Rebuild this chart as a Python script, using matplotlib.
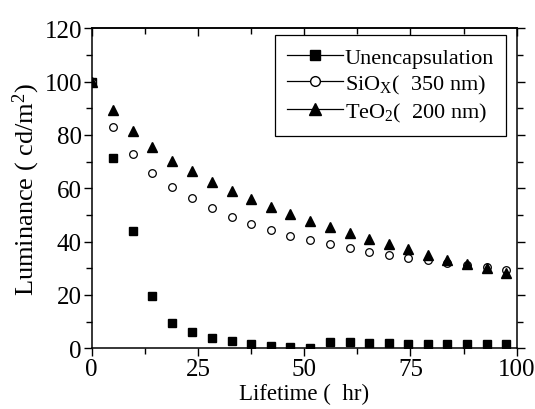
import matplotlib
matplotlib.use("Agg")
import matplotlib.pyplot as plt
from matplotlib.ticker import MultipleLocator, NullFormatter

plt.rcParams['font.family'] = ['Liberation Serif', 'DejaVu Serif']
plt.rcParams['mathtext.fontset'] = 'custom'
plt.rcParams['mathtext.rm'] = 'Liberation Serif'
plt.rcParams['mathtext.it'] = 'Liberation Serif'

# lifetime (hr)
hours = [0, 5.1, 9.8, 14.3, 19.0, 23.6, 28.3, 32.9, 37.5, 42.1, 46.7,
         51.4, 56.1, 60.7, 65.3, 69.9, 74.5, 79.1, 83.7, 88.4, 93.1, 97.6]
# luminance (cd/m2)
unencap = [100, 71.5, 43.9, 19.7, 9.5, 6.0, 4.0, 2.7, 1.6, 1.0, 0.5,
           0.1, 2.2, 2.2, 2.0, 1.9, 1.7, 1.7, 1.6, 1.6, 1.6, 1.6]
siox = [100, 83.1, 73.0, 65.9, 60.5, 56.4, 52.7, 49.2, 46.5, 44.2, 42.1,
        40.6, 39.0, 37.5, 36.1, 35.1, 34.0, 33.0, 32.0, 31.1, 30.4, 29.5]
teo2 = [100, 89.3, 81.6, 75.4, 70.3, 66.4, 62.5, 58.9, 55.9, 52.9, 50.2,
        47.9, 45.4, 43.1, 41.1, 39.2, 37.2, 35.1, 33.2, 31.5, 30.0, 28.2]

fig = plt.figure(figsize=(5.35, 4.1), dpi=100)
ax = fig.add_axes([0.1714, 0.148, 0.7943, 0.7805])

# points only; the legend gets its own handles with lines
ax.plot(hours, unencap, ls='none', marker='s', ms=5.2, color='black')
ax.plot(hours, siox, ls='none', marker='o', ms=5.5, mfc='white', mec='black', mew=0.9)
ax.plot(hours, teo2, ls='none', marker='^', ms=6.8, color='black')

h1, = ax.plot([], [], '-', marker='s', ms=6.5, color='black', lw=0.9)
h2, = ax.plot([], [], '-', marker='o', ms=7, mfc='white', mec='black', color='black', lw=0.9)
h3, = ax.plot([], [], '-', marker='^', ms=8, color='black', lw=0.9)
leg = ax.legend([h1, h2, h3],
                ['Unencapsulation', r'SiO$_\mathrm{X}$(  350 nm)', r'TeO$_2$(  200 nm)'],
                loc='upper right', bbox_to_anchor=(0.976, 0.979), fontsize=16,
                frameon=True, fancybox=False, edgecolor='black', framealpha=1,
                handlelength=2.5, handletextpad=0.1, borderpad=0.55, labelspacing=0.22,
                borderaxespad=0)
leg.get_frame().set_linewidth(0.9)

ax.set_xlim(0, 100)
ax.set_ylim(0, 120)
ax.xaxis.set_major_locator(MultipleLocator(25))
ax.xaxis.set_minor_locator(MultipleLocator(12.5))
ax.yaxis.set_major_locator(MultipleLocator(20))
ax.yaxis.set_minor_locator(MultipleLocator(10))
ax.tick_params(which='both', direction='out', right=True, labelsize=18, width=1, pad=1)
ax.tick_params(which='major', length=6)
ax.tick_params(which='minor', length=4)
for s in ax.spines.values():
    s.set_linewidth(1.1)

# top ticks point inwards
top = ax.secondary_xaxis('top')
top.xaxis.set_major_locator(MultipleLocator(25))
top.xaxis.set_minor_locator(MultipleLocator(12.5))
top.xaxis.set_major_formatter(NullFormatter())
top.tick_params(which='both', direction='in', width=1)
top.tick_params(which='major', length=6)
top.tick_params(which='minor', length=4)
top.spines['top'].set_linewidth(1.1)

ax.set_xlabel('Lifetime (  hr)', fontsize=16.5, labelpad=2)
ax.set_ylabel(r'Luminance ( cd/m$^2$)', fontsize=19, labelpad=2)

fig.savefig('out.png', dpi=100)
